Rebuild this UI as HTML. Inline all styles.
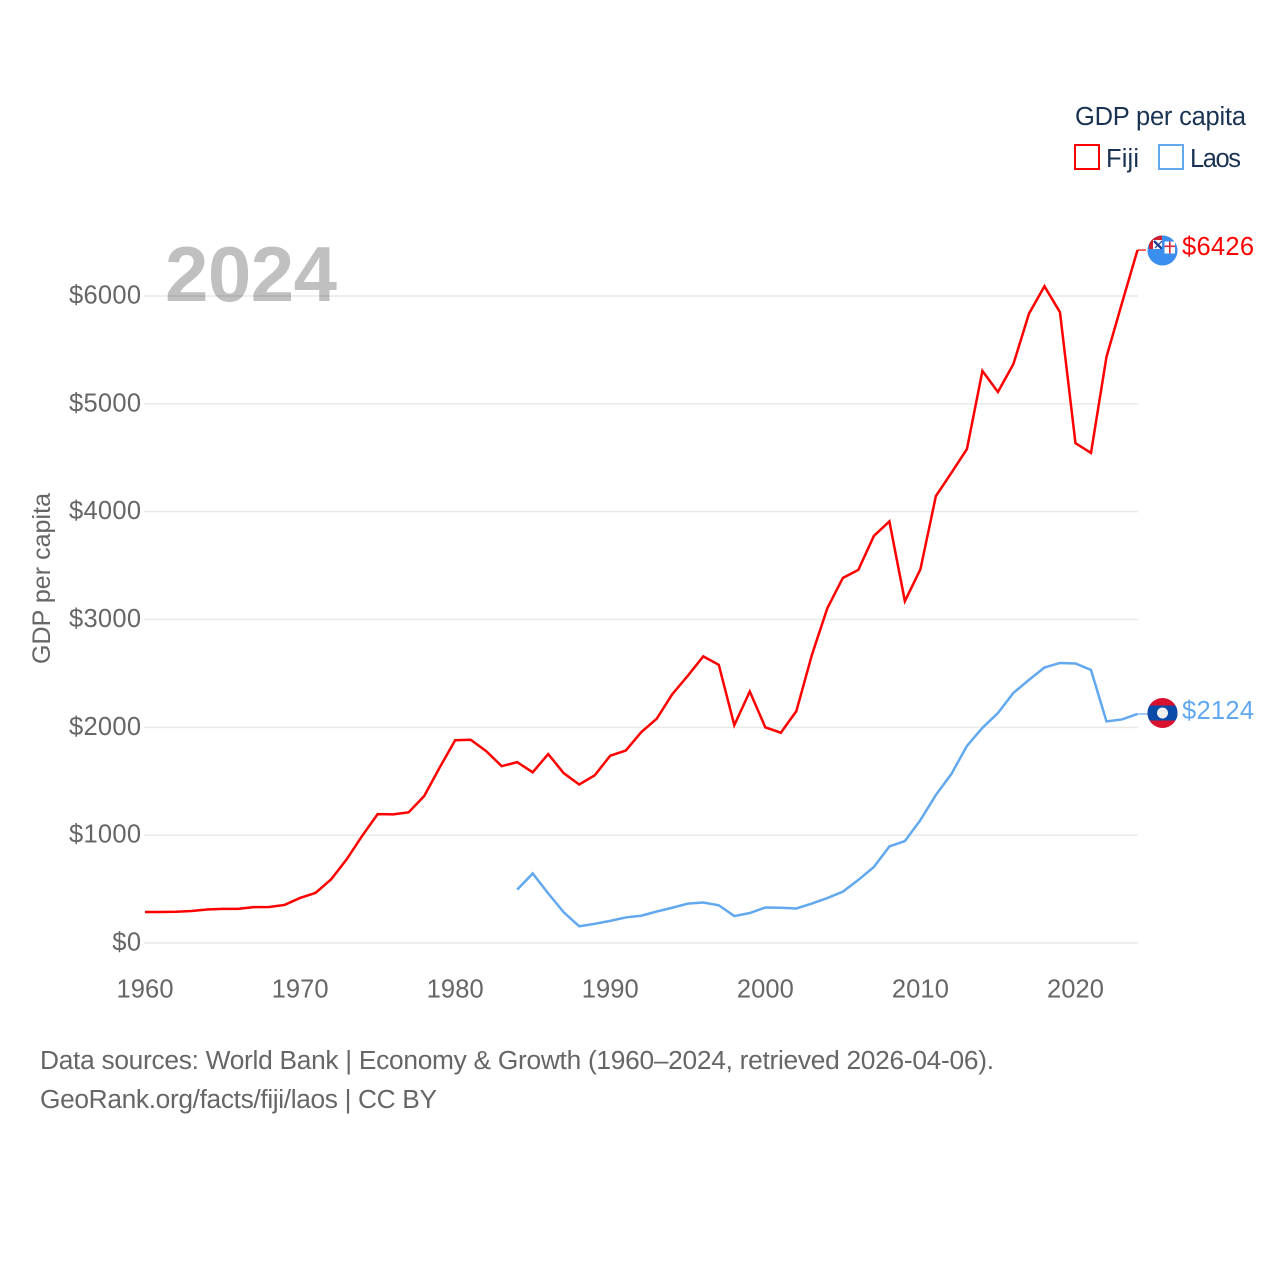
<!DOCTYPE html>
<html lang="en">
<head>
<meta charset="utf-8">
<title>GDP per capita: Fiji and Laos</title>
<style>
html,body{margin:0;padding:0;background:#fff;}
svg{display:block;}
text{font-family:"Liberation Sans",sans-serif;}
.tick{font-size:25.5px;fill:#666;}
.foot{font-size:26.3px;fill:#666;}
.leg{font-size:25.5px;fill:#1a3353;}
</style>
</head>
<body>
<svg id="chart" xmlns="http://www.w3.org/2000/svg" width="1280" height="1280" viewBox="0 0 1280 1280">
  <rect x="0" y="0" width="1280" height="1280" fill="#fff"/>
  <text x="165" y="301" font-size="78" font-weight="700" fill="#c0c0c0" textLength="172" lengthAdjust="spacing">2024</text>
  <g id="grid"></g>
  <g id="yticks"></g>
  <g id="xticks"></g>
  <text transform="translate(50,578.5) rotate(-90)" text-anchor="middle" font-size="25" fill="#666" textLength="171" lengthAdjust="spacing">GDP per capita</text>
  <g id="series"></g>

  <g>
    <text class="leg" x="1075" y="125" textLength="171" lengthAdjust="spacing">GDP per capita</text>
    <g>
      <rect x="1075" y="145" width="24" height="24" fill="none" stroke="#ff0000" stroke-width="2"/>
      <text class="leg" x="1106" y="167" textLength="33" lengthAdjust="spacing">Fiji</text>
    </g>
    <g>
      <rect x="1159" y="145" width="24" height="24" fill="none" stroke="#61a8ee" stroke-width="2"/>
      <text class="leg" x="1190" y="167" textLength="51" lengthAdjust="spacing">Laos</text>
    </g>
  </g>

  <defs>
    <clipPath id="clipFiji"><circle cx="1162.5" cy="250.5" r="15"/></clipPath>
    <clipPath id="clipLaos"><circle cx="1162.5" cy="713" r="15"/></clipPath>
    <clipPath id="clipCanton"><rect x="1149" y="235" width="13" height="14"/></clipPath>
  </defs>

  <g>
    <g clip-path="url(#clipFiji)">
      <rect x="1147" y="234" width="32" height="33" fill="#3a8fee"/>
      <rect x="1149" y="235" width="13" height="14" fill="#d0202f"/>
      <g clip-path="url(#clipCanton)">
        <rect x="1153" y="240" width="9" height="9" fill="#ffffff"/>
        <path d="M1154 241 L1162 249" stroke="#1d3f8f" stroke-width="2.4" fill="none"/>
        <path d="M1162 241 L1155 248" stroke="#1d3f8f" stroke-width="1.2" fill="none"/>
      </g>
      <rect x="1164.5" y="241.5" width="10.5" height="12" fill="#ffffff"/>
      <rect x="1169" y="241.5" width="1.6" height="12" fill="#d8293a"/>
      <rect x="1164.5" y="245.5" width="10.5" height="1.6" fill="#d8293a"/>
    </g>
  </g>

  <g>
    <g clip-path="url(#clipLaos)">
      <rect x="1147" y="697" width="32" height="32" fill="#d9102e"/>
      <rect x="1147" y="705.5" width="32" height="15" fill="#0a4aa8"/>
      <circle cx="1162.5" cy="713" r="5.5" fill="#f0f0f0"/>
    </g>
  </g>

  <text id="labelFiji" x="1182" y="255" font-size="25.5" fill="#ff0000" textLength="72" lengthAdjust="spacing"></text>
  <text id="labelLaos" x="1182" y="719" font-size="25.5" fill="#61a8ee" textLength="72" lengthAdjust="spacing"></text>

  <text class="foot" x="40" y="1069" textLength="954" lengthAdjust="spacing">Data sources: World Bank | Economy &amp; Growth (1960–2024, retrieved 2026-04-06).</text>
  <text class="foot" x="40" y="1108" textLength="397" lengthAdjust="spacing">GeoRank.org/facts/fiji/laos | CC BY</text>
</svg>
<script>
var xTickYears = [1960, 1970, 1980, 1990, 2000, 2010, 2020];
var yTickValues = [0, 1000, 2000, 3000, 4000, 5000, 6000];
var yTickLabels = ["$0", "$1000", "$2000", "$3000", "$4000", "$5000", "$6000"];
var fijiStartYear = 1960;
var fijiValues = [287, 288, 290, 297, 311, 316, 316, 333, 334, 353, 418, 465, 590, 775, 993, 1195, 1193, 1212, 1362, 1627, 1880, 1885, 1780, 1640, 1677, 1583, 1752, 1575, 1470, 1555, 1737, 1785, 1955, 2080, 2307, 2478, 2658, 2580, 2020, 2332, 2000, 1950, 2150, 2670, 3105, 3385, 3460, 3775, 3910, 3170, 3465, 4145, 4360, 4580, 5305, 5110, 5370, 5835, 6090, 5850, 4635, 4545, 5435, 5935, 6426];
var laosStartYear = 1984;
var laosValues = [495, 645, 460, 285, 155, 178, 205, 237, 253, 292, 327, 365, 375, 350, 250, 278, 329, 327, 320, 366, 417, 476, 585, 705, 895, 945, 1140, 1373, 1568, 1827, 1995, 2133, 2320, 2440, 2555, 2597, 2592, 2532, 2055, 2073, 2124];

var NS = "http://www.w3.org/2000/svg";
function xScale(year) { return 145 + (year - 1960) * (1137.5 - 145) / 64; }
function yScale(value) { return 943 - value * (943 - 296) / 6000; }

var grid = document.getElementById("grid");
var yticks = document.getElementById("yticks");
var xticks = document.getElementById("xticks");
var series = document.getElementById("series");

yTickValues.forEach(function (v, i) {
  var line = document.createElementNS(NS, "line");
  line.setAttribute("x1", 144);
  line.setAttribute("x2", 1138);
  line.setAttribute("y1", yScale(v));
  line.setAttribute("y2", yScale(v));
  line.setAttribute("stroke", "rgba(0,0,0,0.085)");
  line.setAttribute("stroke-width", "1.5");
  
  
  grid.appendChild(line);

  var t = document.createElementNS(NS, "text");
  t.setAttribute("class", "tick");
  t.setAttribute("x", 141);
  t.setAttribute("y", yScale(v) + 7.5);
  t.setAttribute("text-anchor", "end");
  t.setAttribute("textLength", yTickLabels[i].length * 14.4);
  t.setAttribute("lengthAdjust", "spacing");
  
  
  t.textContent = yTickLabels[i];
  yticks.appendChild(t);
});

xTickYears.forEach(function (year) {
  var t = document.createElementNS(NS, "text");
  t.setAttribute("class", "tick");
  t.setAttribute("x", xScale(year));
  t.setAttribute("y", 997.5);
  t.setAttribute("text-anchor", "middle");
  t.setAttribute("textLength", 57);
  t.setAttribute("lengthAdjust", "spacing");
  
  
  t.textContent = String(year);
  xticks.appendChild(t);
});

function buildPath(startYear, values) {
  return values.map(function (v, i) {
    return (i === 0 ? "M" : "L") + xScale(startYear + i).toFixed(2) + " " + yScale(v).toFixed(2);
  }).join(" ");
}

var fijiPath = document.createElementNS(NS, "path");
fijiPath.setAttribute("d", buildPath(fijiStartYear, fijiValues));
fijiPath.setAttribute("fill", "none");
fijiPath.setAttribute("stroke", "#ff0000");
fijiPath.setAttribute("stroke-width", "2.5");
fijiPath.setAttribute("stroke-linejoin", "miter");


series.appendChild(fijiPath);

var laosPath = document.createElementNS(NS, "path");
laosPath.setAttribute("d", buildPath(laosStartYear, laosValues));
laosPath.setAttribute("fill", "none");
laosPath.setAttribute("stroke", "#61a8ee");
laosPath.setAttribute("stroke-width", "2.5");
laosPath.setAttribute("stroke-linejoin", "miter");


series.appendChild(laosPath);

var fijiLast = fijiValues[fijiValues.length - 1];
var laosLast = laosValues[laosValues.length - 1];

var fijiLeader = document.createElementNS(NS, "line");
fijiLeader.setAttribute("x1", xScale(2024));
fijiLeader.setAttribute("x2", 1146);
fijiLeader.setAttribute("y1", yScale(fijiLast));
fijiLeader.setAttribute("y2", yScale(fijiLast));
fijiLeader.setAttribute("stroke", "#ff0000");
fijiLeader.setAttribute("stroke-width", "1.2");


series.appendChild(fijiLeader);

var laosLeader = document.createElementNS(NS, "line");
laosLeader.setAttribute("x1", xScale(2024));
laosLeader.setAttribute("x2", 1148);
laosLeader.setAttribute("y1", yScale(laosLast));
laosLeader.setAttribute("y2", yScale(laosLast));
laosLeader.setAttribute("stroke", "#61a8ee");
laosLeader.setAttribute("stroke-width", "1.2");


series.appendChild(laosLeader);

document.getElementById("labelFiji").textContent = "$" + fijiLast;
document.getElementById("labelLaos").textContent = "$" + laosLast;
</script>
</body>
</html>
